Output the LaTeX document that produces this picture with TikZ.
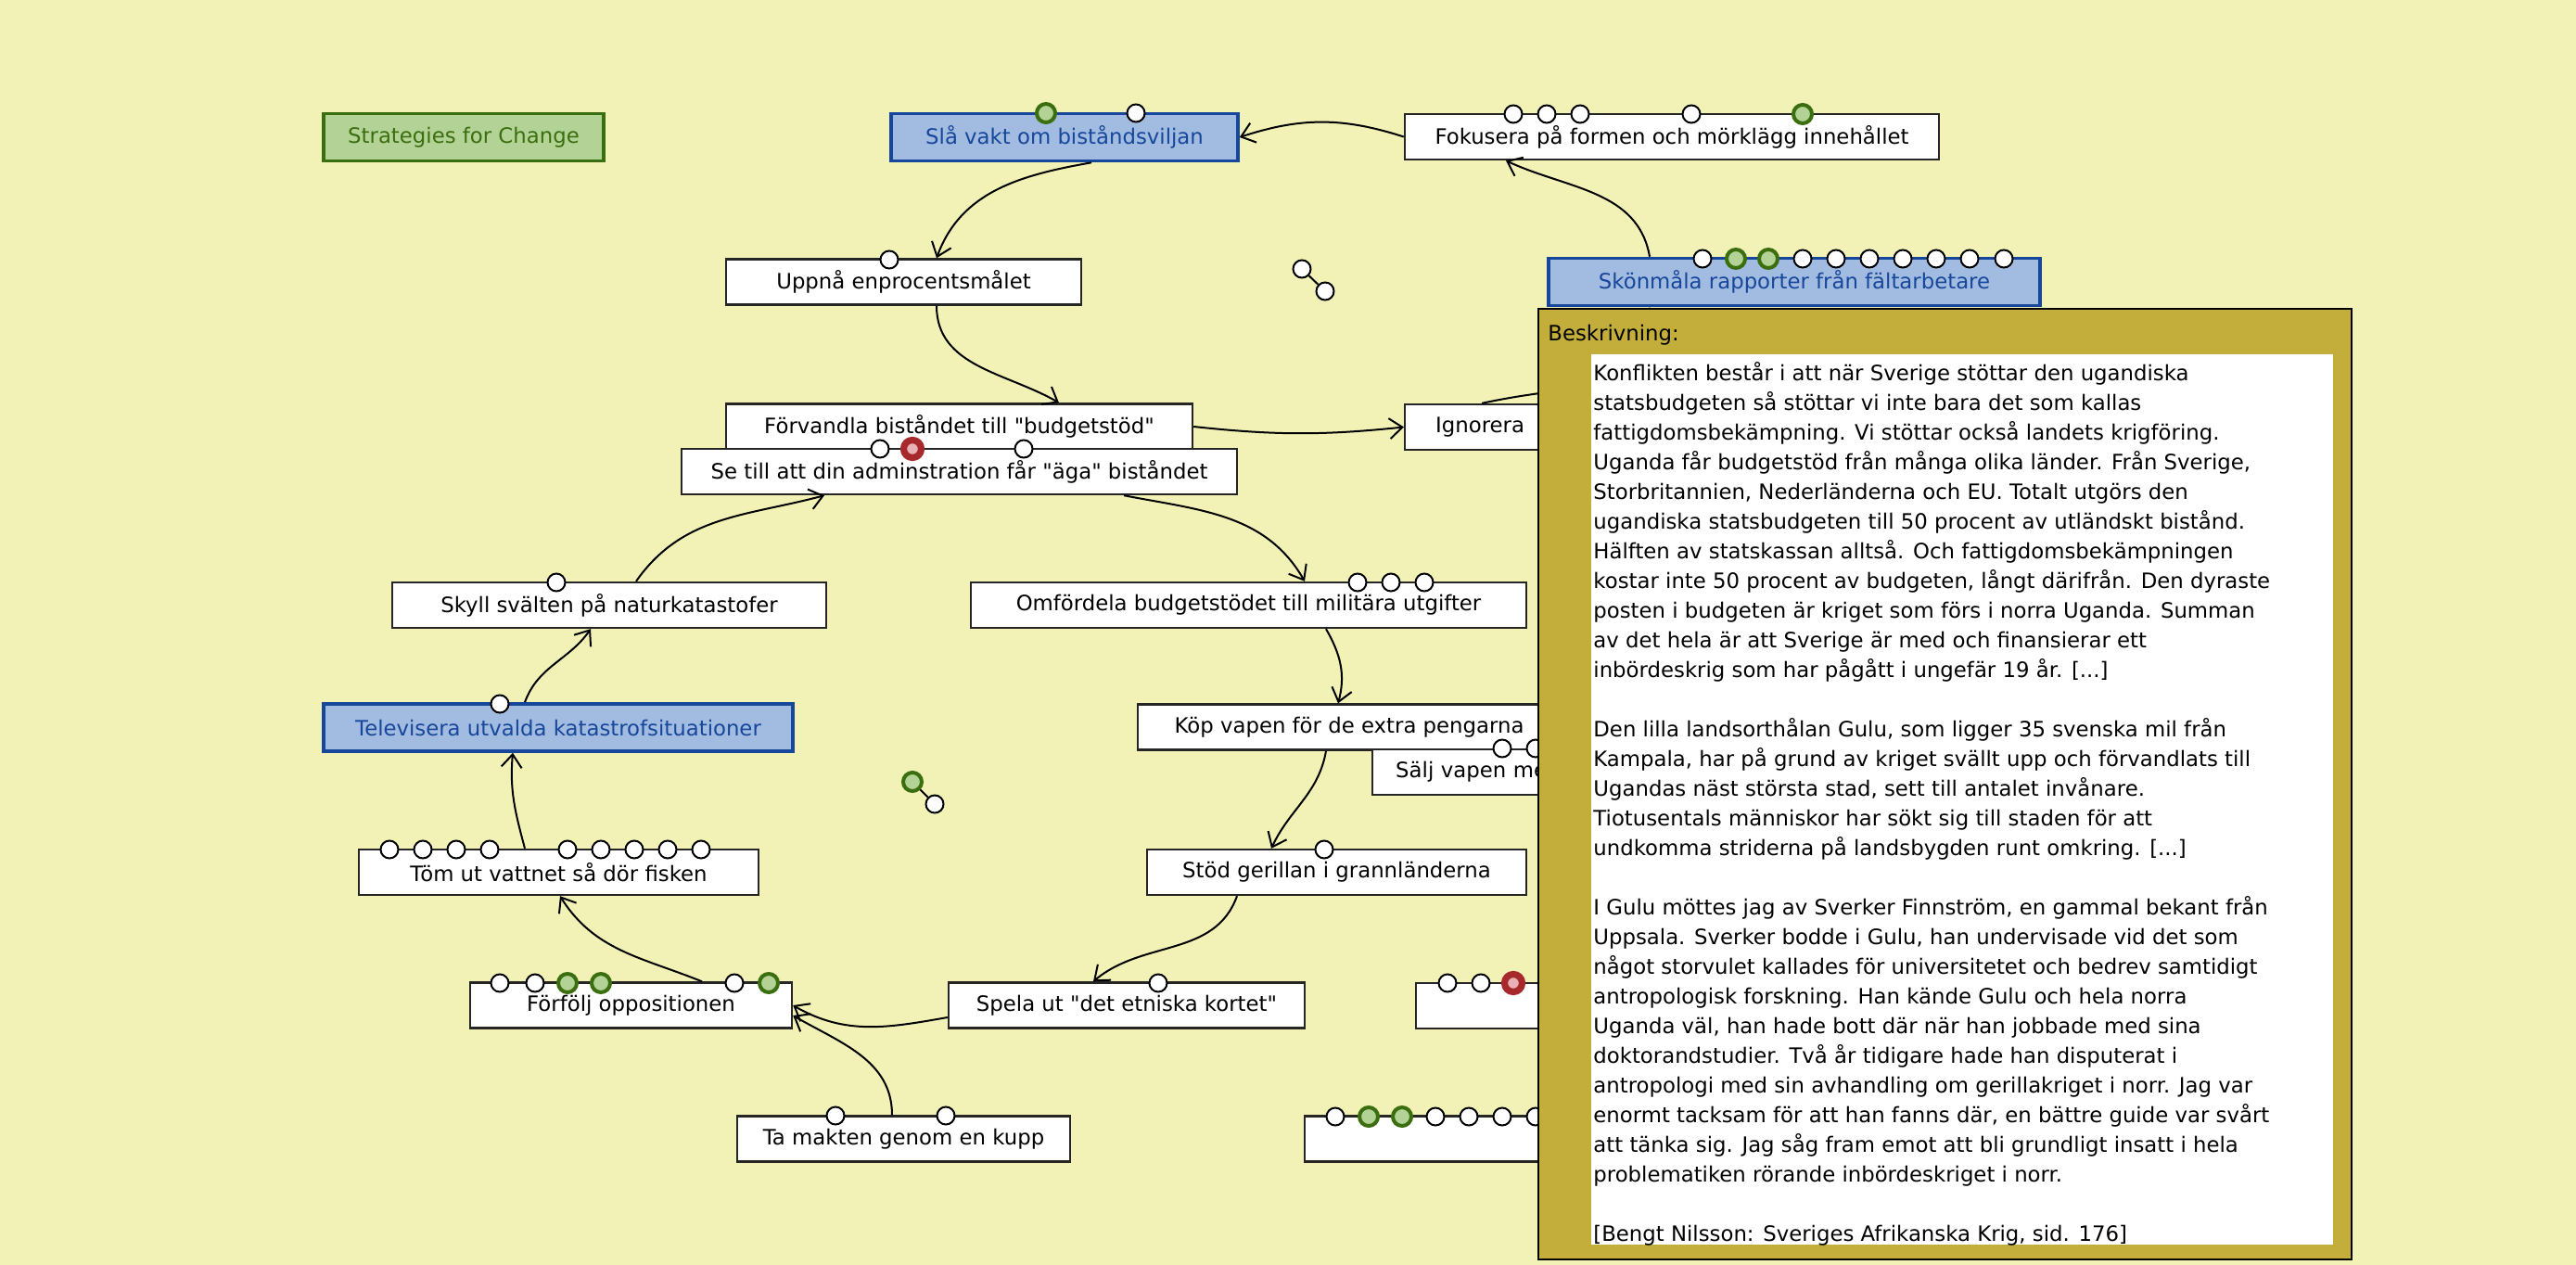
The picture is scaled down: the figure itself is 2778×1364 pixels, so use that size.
\documentclass[tikz,border=0pt]{standalone}
\usepackage{fontspec}
\setmainfont{DejaVu Sans}[Ligatures=TeXOff]
\usetikzlibrary{arrows.meta, positioning}
\definecolor{canvasbg}{HTML}{F2F2B6}
\definecolor{popolive}{HTML}{C3AE3C}
\definecolor{stratblue}{HTML}{17479A}
\definecolor{stratfill}{HTML}{A2BBE0}
\definecolor{titlegreen}{HTML}{3B6E0E}
\definecolor{titlefill}{HTML}{B3D396}
\definecolor{portred}{HTML}{A8292D}
\definecolor{portpink}{HTML}{E9B1B5}
\newcommand\nodefont{\fontsize{11.4pt}{16pt}\selectfont}
\tikzset{
  % vanlig aktivitet (vit ruta)
  act/.style={draw=black!85, line width=1.2pt, fill=white, minimum height=24.5pt,
    inner sep=0pt, font=\nodefont},
  % strategi (bla ruta)
  act blue/.style={act, draw=stratblue, line width=1.8pt, fill=stratfill,
    text=stratblue, minimum height=25.5pt},
  % rubrik (gron ruta)
  act green/.style={act, draw=titlegreen, line width=1.8pt, fill=titlefill,
    text=titlegreen, minimum height=25.5pt},
  % kopplingspunkter
  port/.style={circle, draw=black, line width=1pt, fill=white, minimum size=9.5pt,
    inner sep=0pt},
  port green/.style={port, draw=titlegreen, fill=titlefill, line width=2pt,
    minimum size=10pt},
  port red/.style={port, draw=portred, fill=portpink, line width=3.6pt,
    minimum size=9.5pt},
  % pilar
  flow/.style={-{Straight Barb[length=7pt, width=11pt, line width=1pt]},
    line width=1pt},
}

\begin{document}
\begin{tikzpicture}[x=0.5pt, y=-0.5pt]
  \fill[canvasbg] (0,0) rectangle (2778,1364);
  \useasboundingbox (0,0) rectangle (2778,1364);
  % rutor
  \node[act green, minimum width=151pt] (strat) at (500,148) {Strategies for Change};
  \node[act blue, minimum width=187pt] (slavakt) at (1148,148) {Slå vakt om biståndsviljan};
  \node[act, minimum width=288pt] (fokus) at (1803,147.5) {Fokusera på formen och mörklägg innehållet};
  \node[act, minimum width=191.5pt] (uppna) at (974.5,304) {Uppnå enprocentsmålet};
  \node[act blue, minimum width=265pt] (skon) at (1935,304) {Skönmåla rapporter från fältarbetare};
  \node[act, minimum width=251.5pt] (forv) at (1034.5,460) {Förvandla biståndet till "budgetstöd"};
  \node[act, minimum width=299.5pt] (setill) at (1034.5,508.5) {Se till att din adminstration får "äga" biståndet};
  \node[act, anchor=west, minimum width=103pt, text width=70pt, inner xsep=16.5pt,
    align=left] (ignor) at (1514,460.5) {Ignorera};
  \node[act, minimum width=299.5pt] (omford) at (1346.5,652.5) {Omfördela budgetstödet till militära utgifter};
  \node[act, minimum width=234pt] (skyll) at (657,652.5) {Skyll svälten på naturkatastofer};
  \node[act blue, minimum width=253pt] (telev) at (602,784.5) {Televisera utvalda katastrofsituationer};
  \node[act, minimum width=228pt] (kop) at (1455,784) {Köp vapen för de extra pengarna};
  \node[act, anchor=west, minimum width=120.5pt, text width=95.5pt, inner xsep=12.5pt,
    align=left] (salj) at (1479,832.5) {Sälj vapen med};
  \node[act, minimum width=215.5pt] (tom) at (602.5,940.5) {Töm ut vattnet så dör fisken};
  \node[act, minimum width=204.5pt] (stod) at (1441.5,940.5) {Stöd gerillan i grannländerna};
  \node[act, minimum width=173.5pt] (forfolj) at (680.5,1084) {Förfölj oppositionen};
  \node[act, minimum width=192pt] (spela) at (1215,1084) {Spela ut "det etniska kortet"};
  \node[act, minimum width=179.5pt] (kupp) at (974.5,1228) {Ta makten genom en kupp};
  \node[act, anchor=west, minimum width=97pt] (dolda) at (1526,1084.5) {};
  \node[act, anchor=west, minimum width=157pt] (doldb) at (1406,1228) {};
  % dolda andpunkter under beskrivningen
  \coordinate (hid1) at (1760,410);
  \coordinate (hid2) at (1779,420);
  % pilar
  \draw[flow] (fokus.west) to[bend right=18] (slavakt.east);
  \draw[flow] ([xshift=14.5pt]slavakt.south) to[out=-170, in=70] ([xshift=17.75pt]uppna.north);
  \draw[flow] ([xshift=-78pt]skon.north) to[out=100, in=-25] ([xshift=-89.5pt]fokus.south);
  \draw[flow] ([xshift=17.75pt]uppna.south) to[out=-90, in=150] ([xshift=53.75pt]forv.north);
  \draw[flow] (forv.east) to[bend right=6] (ignor.west);
  \draw[flow] ([xshift=-10pt]ignor.north) to[out=12, in=-170] (hid1);
  \draw[flow] (hid2) -- ([xshift=-78pt]skon.south);
  \draw[flow] ([xshift=14.5pt]skyll.north) to[out=55, in=-165] ([xshift=-72.75pt]setill.south);
  \draw[flow] ([xshift=88.75pt]setill.south) to[out=-11, in=120] ([xshift=30.25pt]omford.north);
  \draw[flow] ([xshift=41.75pt]omford.south) to[out=-60, in=75] ([xshift=-6pt]kop.north);
  \draw[flow] ([xshift=-12.5pt]kop.south) to[out=-100, in=65] ([xshift=-35.25pt]stod.north);
  \draw[flow] ([xshift=-53.75pt]stod.south) to[out=-110, in=40] ([xshift=-18pt]spela.north);
  \draw[flow] ([yshift=-6.5pt]spela.west) to[out=190, in=-30] (forfolj.east);
  \draw[flow] ([xshift=-6.25pt]kupp.north) to[out=90, in=-30] ([yshift=-5.5pt]forfolj.east);
  \draw[flow] ([xshift=38.25pt]forfolj.north) to[out=158, in=-58] ([xshift=0.75pt]tom.south);
  \draw[flow] ([xshift=-18.25pt]tom.north) to[out=105, in=-95] ([xshift=-24.5pt]telev.south);
  \draw[flow] ([xshift=-18pt]telev.north) to[out=70, in=-125] ([xshift=-10pt]skyll.south);
  % losa punktpar
  \node[port] (lp1) at (1404,290) {};
  \node[port] (lp2) at (1429,314) {};
  \node[port green] (lp3) at (984,843) {};
  \node[port] (lp4) at (1008,867) {};
  \draw[line width=1pt] (lp1) -- (lp2);
  \draw[line width=1pt] (lp3) -- (lp4);
  % kopplingspunkter pa rutorna
  \node[port green] (sv1) at (1128,122) {};
  \node[port] (sv2) at (1225,122) {};
  \node[port] (up1) at (959,280) {};
  \foreach \x [count=\i] in {1632,1668,1704,1824} \node[port] (fo\i) at (\x,123) {};
  \node[port green] (fo5) at (1944,123) {};
  \foreach \x [count=\i] in {1836,1944,1980,2016,2052,2088,2124,2161} \node[port] (sk\i) at (\x,279) {};
  \foreach \x [count=\i] in {1872,1907} \node[port green] (skg\i) at (\x,279) {};
  \node[port] (st1) at (949,484) {};
  \node[port red] (st2) at (984,484) {};
  \node[port] (st3) at (1104,484) {};
  \foreach \x [count=\i] in {1464,1500,1536} \node[port] (om\i) at (\x,628) {};
  \node[port] (sy1) at (600,628) {};
  \node[port] (tv1) at (539,759) {};
  \foreach \x [count=\i] in {1620,1656} \node[port] (sa\i) at (\x,807) {};
  \foreach \x [count=\i] in {420,456,492,528,612,648,684,720,756} \node[port] (tm\i) at (\x,916) {};
  \node[port] (sd1) at (1428,916) {};
  \foreach \x [count=\i] in {539,577,792} \node[port] (ff\i) at (\x,1060) {};
  \foreach \x [count=\i] in {612,648,829} \node[port green] (ffg\i) at (\x,1060) {};
  \node[port] (sp1) at (1249,1060) {};
  \foreach \x [count=\i] in {901,1020} \node[port] (ku\i) at (\x,1203) {};
  \foreach \x [count=\i] in {1561,1597} \node[port] (da\i) at (\x,1060) {};
  \node[port red] (da3) at (1632,1060) {};
  \foreach \x [count=\i] in {1440,1548,1584,1620,1656} \node[port] (db\i) at (\x,1204) {};
  \foreach \x [count=\i] in {1476,1512} \node[port green] (dbg\i) at (\x,1204) {};
  % beskrivning (popup)
  \filldraw[fill=popolive, draw=black, line width=1pt] (1659,333) rectangle (2536,1358);
  \fill[white] (1716,382) rectangle (2516,1342);
  \node[anchor=base west, inner sep=0pt, font=\nodefont] (beskrrubrik) at (1669,367) {Beskrivning:};
  \node[anchor=north west, align=left, inner sep=0pt, font=\nodefont] (beskrtext) at (1718,390) {%
    Konflikten består i att när Sverige stöttar den ugandiska\\
    statsbudgeten så stöttar vi inte bara det som kallas\\
    fattigdomsbekämpning. Vi stöttar också landets krigföring.\\
    Uganda får budgetstöd från många olika länder. Från Sverige,\\
    Storbritannien, Nederländerna och EU. Totalt utgörs den\\
    ugandiska statsbudgeten till 50 procent av utländskt bistånd.\\
    Hälften av statskassan alltså. Och fattigdomsbekämpningen\\
    kostar inte 50 procent av budgeten, långt därifrån. Den dyraste\\
    posten i budgeten är kriget som förs i norra Uganda. Summan\\
    av det hela är att Sverige är med och finansierar ett\\
    inbördeskrig som har pågått i ungefär 19 år. [...]\\[16pt]
    Den lilla landsorthålan Gulu, som ligger 35 svenska mil från\\
    Kampala, har på grund av kriget svällt upp och förvandlats till\\
    Ugandas näst största stad, sett till antalet invånare.\\
    Tiotusentals människor har sökt sig till staden för att\\
    undkomma striderna på landsbygden runt omkring. [...]\\[16pt]
    I Gulu möttes jag av Sverker Finnström, en gammal bekant från\\
    Uppsala. Sverker bodde i Gulu, han undervisade vid det som\\
    något storvulet kallades för universitetet och bedrev samtidigt\\
    antropologisk forskning. Han kände Gulu och hela norra\\
    Uganda väl, han hade bott där när han jobbade med sina\\
    doktorandstudier. Två år tidigare hade han disputerat i\\
    antropologi med sin avhandling om gerillakriget i norr. Jag var\\
    enormt tacksam för att han fanns där, en bättre guide var svårt\\
    att tänka sig. Jag såg fram emot att bli grundligt insatt i hela\\
    problematiken rörande inbördeskriget i norr.\\[16pt]
    [Bengt Nilsson: Sveriges Afrikanska Krig, sid. 176]};
\end{tikzpicture}
\end{document}
